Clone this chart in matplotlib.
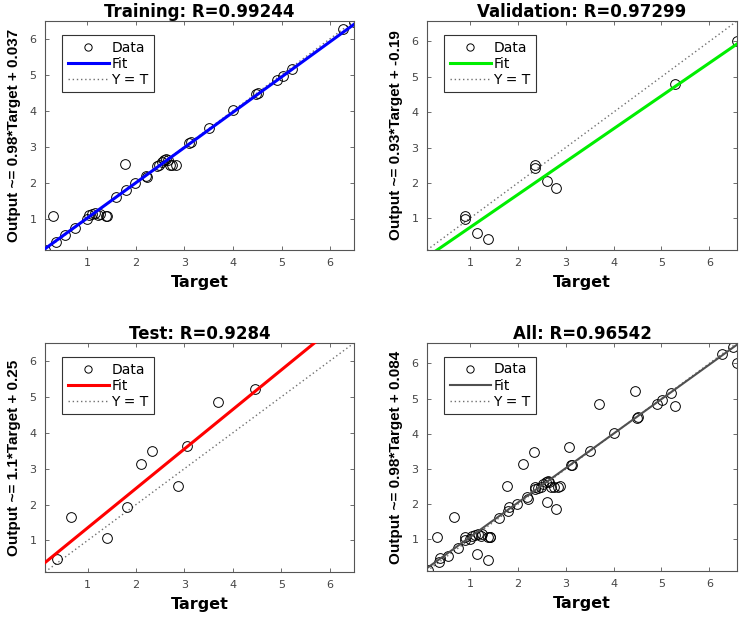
import numpy as np
from matplotlib import pyplot as plt

# values
train_t = [0.13, 0.30, 0.35, 0.54, 0.75, 1.00, 1.04, 1.10, 1.16, 1.22, 1.26, 1.38, 1.41,
           1.60, 1.78, 1.80, 1.98, 2.20, 2.22, 2.43, 2.48, 2.53, 2.58, 2.63, 2.66, 2.70,
           2.75, 2.83, 3.10, 3.13, 3.51, 4.00, 4.48, 4.52, 4.90, 5.02, 5.21, 6.27, 6.49]
train_o = [0.14, 1.07, 0.35, 0.54, 0.74, 1.00, 1.09, 1.12, 1.16, 1.10, 1.14, 1.07, 1.07,
           1.60, 2.51, 1.81, 2.00, 2.19, 2.16, 2.47, 2.50, 2.58, 2.62, 2.67, 2.63, 2.50,
           2.50, 2.50, 3.10, 3.12, 3.51, 4.02, 4.46, 4.49, 4.86, 4.97, 5.15, 6.28, 6.46]

val_t = [0.90, 0.90, 1.15, 1.37, 2.36, 2.36, 2.60, 2.80, 5.28, 6.58]
val_o = [1.07, 0.97, 0.59, 0.40, 2.50, 2.42, 2.05, 1.85, 4.79, 6.02]

test_t = [0.37, 0.66, 1.41, 1.82, 2.11, 2.33, 2.87, 3.06, 3.70, 4.45]
test_o = [0.47, 1.64, 1.07, 1.93, 3.13, 3.48, 2.51, 3.62, 4.85, 5.21]

all_t = train_t + val_t + test_t
all_o = train_o + val_o + test_o

names = ['Training', 'Validation', 'Test', 'All']
r_values = ['0.99244', '0.97299', '0.9284', '0.96542']
slopes = [0.98, 0.93, 1.1, 0.98]
intercepts = [0.037, -0.19, 0.25, 0.084]
lims = [(0.13, 6.49), (0.10, 6.58), (0.12, 6.50), (0.10, 6.58)]
fit_colors = ['#0000ff', '#00ee00', '#ff0000', '#505050']
fit_widths = [2.2, 2.2, 2.2, 1.5]
targets = [train_t, val_t, test_t, all_t]
outputs = [train_o, val_o, test_o, all_o]

W, H = 748, 617
# axes boxes in pixels: left, top, right, bottom
boxes = [(45, 21, 354, 250), (427, 21, 737, 250),
         (45, 343, 354, 572), (427, 343, 737, 571)]

fig = plt.figure(figsize=(W / 100, H / 100), dpi=100)

for i in range(4):
    l, t, r, b = boxes[i]
    ax = fig.add_axes([l / W, 1 - b / H, (r - l) / W, (b - t) / H])
    lo, hi = lims[i]
    xs = np.array([lo, hi])

    ax.plot(targets[i], outputs[i], 'o', mfc='none', mec='black', ms=7, mew=0.7,
            label='Data', zorder=2)
    ax.plot(xs, slopes[i] * xs + intercepts[i], '-', color=fit_colors[i],
            lw=fit_widths[i], label='Fit', zorder=3)
    ax.plot(xs, xs, color='#707070', lw=1.0, ls=(0, (1, 2)), label='Y = T', zorder=1)

    ax.set_xlim(lo, hi)
    ax.set_ylim(lo, hi)
    ax.set_xticks(range(1, 7))
    ax.set_yticks(range(1, 7))
    ax.tick_params(direction='in', top=True, right=True, length=3, width=0.6,
                   colors='#555555', labelcolor='#444444', labelsize=8, pad=6)
    for s in ax.spines.values():
        s.set_color('#555555')
        s.set_linewidth(0.8)

    ax.set_title(names[i] + ': R=' + r_values[i], fontsize=12, fontweight='bold',
                 family='DejaVu Sans', pad=3)
    ax.set_xlabel('Target', fontsize=11.5, fontweight='bold', family='DejaVu Sans',
                  labelpad=5)
    ax.set_ylabel(f'Output ~= {slopes[i]:g}*Target + {intercepts[i]:g}', fontsize=11,
                  fontweight='bold', family='Liberation Sans', labelpad=6)

    leg = ax.legend(loc='upper left', bbox_to_anchor=(0.055, 0.939), borderaxespad=0,
                    fontsize=10, handlelength=3, labelspacing=0.15, numpoints=1,
                    markerscale=0.75, fancybox=False, framealpha=1, edgecolor='#333333',
                    borderpad=0.4, handletextpad=0.15)
    leg.get_frame().set_linewidth(0.8)

plt.savefig('out.png', dpi=100)
